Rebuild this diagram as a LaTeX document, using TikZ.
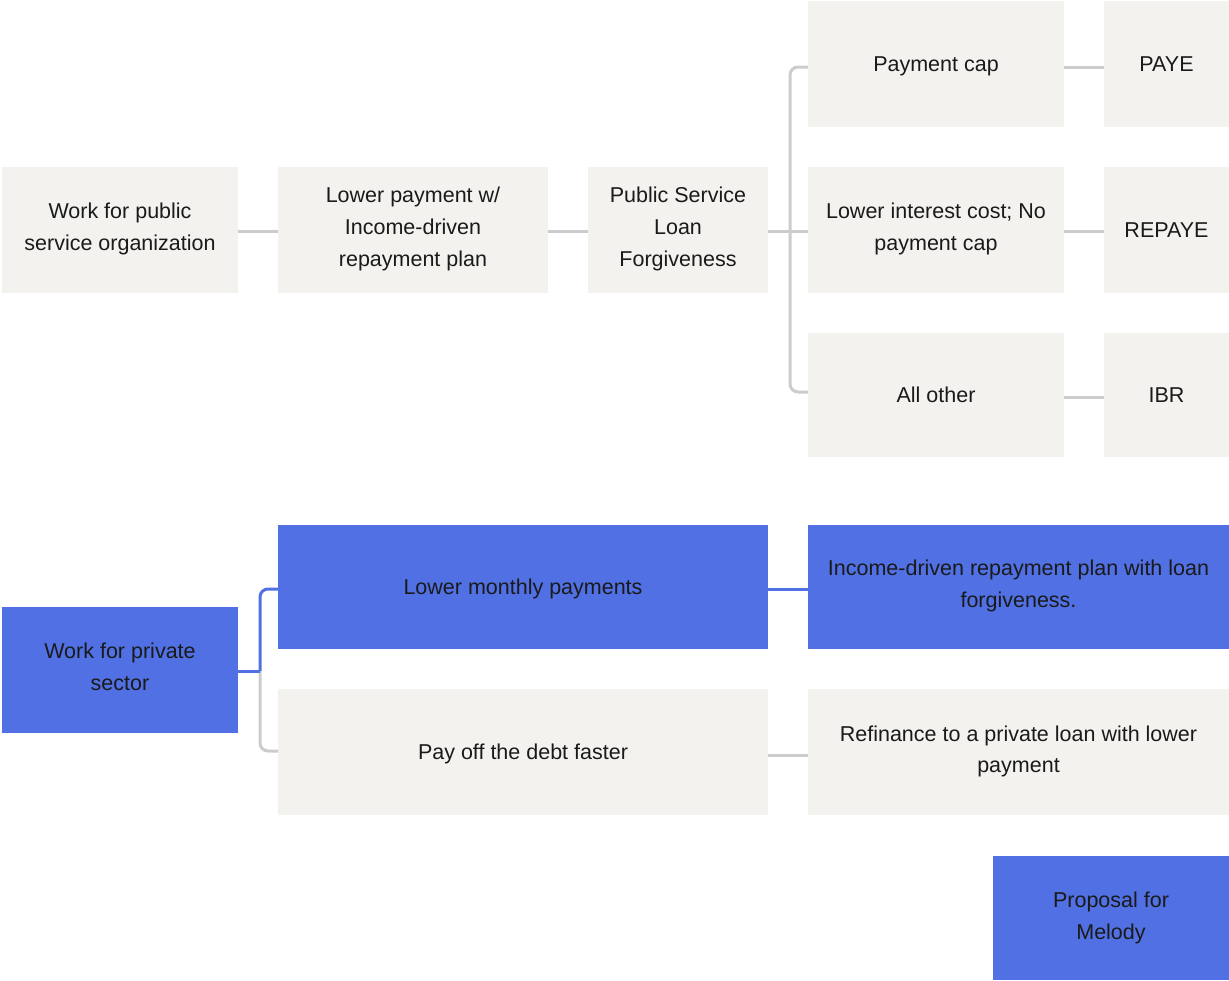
\documentclass[tikz,border=0pt]{standalone}
\usepackage{fontspec}
\setmainfont{Liberation Sans}
\definecolor{boxgray}{HTML}{F3F2EE}
\definecolor{boxblue}{HTML}{5070E3}
\definecolor{linegray}{HTML}{CCCCCC}
\definecolor{txt}{HTML}{1A1A1A}
\tikzset{
  base/.style={inner sep=0pt, outer sep=0pt, align=center, text=txt,
    font=\fontsize{21.5}{32}\selectfont,
    execute at begin node={\rule[-5.6pt]{0pt}{26.5pt}},
    execute at end node={\rule[-5.6pt]{0pt}{26.5pt}}},
  ml/.style={execute at begin node={\rule[-5.6pt]{0pt}{29.5pt}}},
  gbox/.style={base, fill=boxgray},
  bbox/.style={base, fill=boxblue},
  gline/.style={draw=linegray, line width=3pt},
  bline/.style={draw=boxblue, line width=3pt},
}
\begin{document}
\begin{tikzpicture}[x=1pt,y=-1pt]
\useasboundingbox (0,0) rectangle (1229,980);
% top tree
\node[gbox, ml, minimum width=236pt, minimum height=126pt] (wpub) at (120,230) {Work for public\\service organization};
\node[gbox, ml, minimum width=270pt, minimum height=126pt] (lp) at (413,230) {Lower payment w/\\Income-driven\\repayment plan};
\node[gbox, ml, minimum width=180pt, minimum height=126pt] (psl) at (678,230) {Public Service\\Loan\\Forgiveness};
\node[gbox, minimum width=256pt, minimum height=126pt] (pc) at (936,64) {Payment cap};
\node[gbox, minimum width=125pt, minimum height=126pt] (paye) at (1166.5,64) {PAYE};
\node[gbox, ml, minimum width=256pt, minimum height=126pt] (lic) at (936,230) {Lower interest cost; No\\payment cap};
\node[gbox, minimum width=125pt, minimum height=126pt] (repaye) at (1166.5,230) {REPAYE};
\node[gbox, minimum width=256pt, minimum height=124pt] (ao) at (936,395) {All other};
\node[gbox, minimum width=125pt, minimum height=124pt] (ibr) at (1166.5,395) {IBR};
% bottom tree
\node[bbox, ml, minimum width=236pt, minimum height=126pt] (wps) at (120,670) {Work for private\\sector};
\node[bbox, minimum width=490pt, minimum height=124pt] (lmp) at (523,587) {Lower monthly payments};
\node[bbox, ml, minimum width=421pt, minimum height=124pt] (idr) at (1018.5,587) {Income-driven repayment plan with loan\\forgiveness.};
\node[gbox, minimum width=490pt, minimum height=126pt] (pod) at (523,752) {Pay off the debt faster};
\node[gbox, ml, minimum width=421pt, minimum height=126pt] (ref) at (1018.5,752) {Refinance to a private loan with lower\\payment};
\node[bbox, ml, minimum width=236pt, minimum height=124pt] (prop) at (1111,918) {Proposal for\\Melody};
% connectors top
\coordinate (bx) at (790,231);
\draw[gline] (wpub.east |- 0,231) -- (lp.west |- 0,231);
\draw[gline] (lp.east |- 0,231) -- (psl.west |- 0,231);
\draw[gline] (psl.east |- 0,231) -- (lic.west |- 0,231);
\draw[gline, rounded corners=8pt] (pc.west |- 0,67) -| (bx) |- (ao.west |- 0,392);
\draw[gline] (pc.east |- 0,67) -- (paye.west |- 0,67);
\draw[gline] (lic.east |- 0,231) -- (repaye.west |- 0,231);
\draw[gline] (ao.east |- 0,397) -- (ibr.west |- 0,397);
% connectors bottom
\coordinate (bx2) at (260,671);
\draw[gline, rounded corners=8pt] (bx2) |- (pod.west |- 0,751);
\draw[bline, rounded corners=8pt] (lmp.west |- 0,589) -| (bx2);
\draw[bline] (bx2) -- (wps.east |- 0,671);
\draw[bline] (lmp.east |- 0,589) -- (idr.west |- 0,589);
\draw[gline] (pod.east |- 0,755) -- (ref.west |- 0,755);
\end{tikzpicture}
\end{document}
